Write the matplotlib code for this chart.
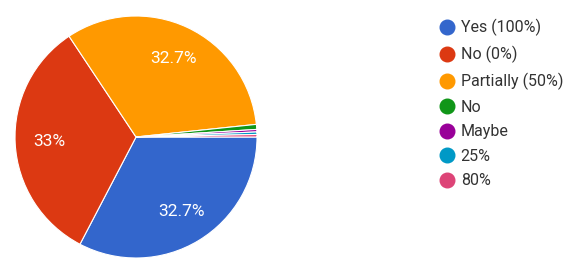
import matplotlib
matplotlib.use("Agg")
import matplotlib.pyplot as plt
from matplotlib.lines import Line2D

plt.rcParams.update({
    "font.family": ["Roboto", "DejaVu Sans"],
})

# responses (counts)
labels = ["Yes (100%)", "No (0%)", "Partially (50%)", "No", "Maybe", "25%", "80%"]
counts = [98, 99, 98, 2, 1, 1, 1]
colors = ["#3366cc", "#dc3912", "#ff9900", "#109618", "#990099", "#0099c6", "#dd4477"]


def pct_label(p):
    if p < 5:
        return ""
    s = f"{p:.1f}"
    if s.endswith(".0"):
        s = s[:-2]
    return s + "%"


fig = plt.figure(figsize=(5.69, 2.64), dpi=100)
ax = fig.add_axes([0.0264, 0.0227, 0.4253, 0.9167])
wedges, texts, autotexts = ax.pie(
    counts, colors=colors, startangle=0, counterclock=False,
    autopct=pct_label, pctdistance=0.72,
    wedgeprops=dict(edgecolor="white", linewidth=0.8),
    textprops=dict(color="white", fontsize=12.5))
ax.set_xlim(-1, 1)
ax.set_ylim(-1, 1)
ax.set_aspect("equal")

handles = [Line2D([0], [0], marker="o", linestyle="", markersize=10.5,
                  markerfacecolor=c, markeredgecolor=c) for c in colors]
fig.legend(handles, labels, loc="upper left",
           bbox_to_anchor=(428 / 569, 1 - 8 / 264),
           frameon=False, fontsize=11.5, labelspacing=0.6,
           handletextpad=0.35, handlelength=1.0, labelcolor="#333333",
           borderaxespad=0.3)

fig.savefig("out.png", dpi=100)
